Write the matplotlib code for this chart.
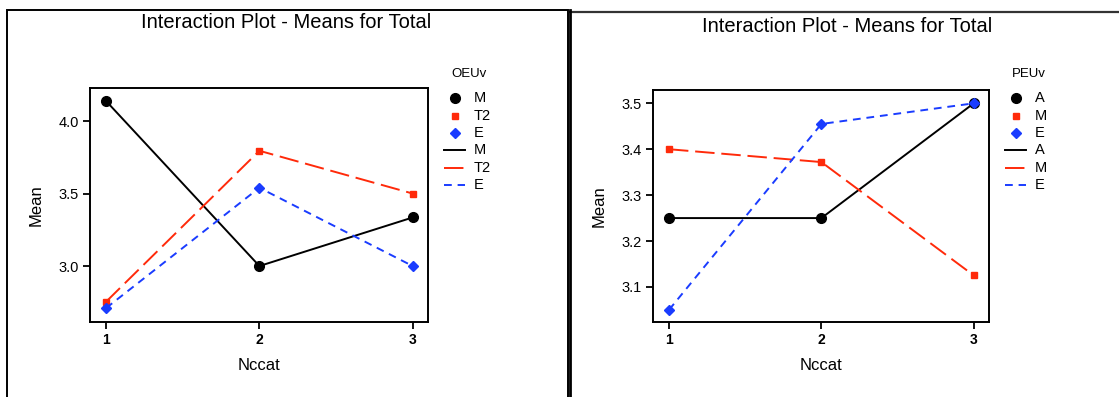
import matplotlib
matplotlib.use("Agg")
import matplotlib.pyplot as plt
from matplotlib.lines import Line2D
from matplotlib.patches import Rectangle

plt.rcParams['font.family'] = ['Liberation Sans', 'DejaVu Sans']

# data
nccat = [1, 2, 3]

oeuv_levels = ['M', 'T2', 'E']
oeuv_means = {
    'M': [4.138, 3.0, 3.335],
    'T2': [2.754, 3.795, 3.5],
    'E': [2.71, 3.54, 3.0],
}

peuv_levels = ['A', 'M', 'E']
peuv_means = {
    'A': [3.25, 3.25, 3.5],
    'M': [3.4, 3.372, 3.125],
    'E': [3.05, 3.455, 3.5],
}

W, H = 1119, 397
RED = '#ff2a0a'
BLUE = '#1a3cff'
styles = [
    dict(color='black', marker='o', ms=7, ls='-', dashes=None),
    dict(color=RED, marker='s', ms=4, ls='--', dashes=(10, 3.5)),
    dict(color=BLUE, marker='D', ms=5.5, ls='--', dashes=(4, 3)),
]

fig = plt.figure(figsize=(W / 100, H / 100), dpi=100)


def fx(px):
    return px / W


def fy(py):
    return 1 - py / H


def panel(box, means, levels, ylim, yticks, legend_title, leg_x, title_x, title_y):
    x0, y0, x1, y1 = box
    ax = fig.add_axes([fx(x0), fy(y1), fx(x1 - x0), (y1 - y0) / H])
    for lev, st in zip(levels, styles):
        line, = ax.plot(nccat, means[lev], color=st['color'], lw=1.4,
                        marker=st['marker'], ms=st['ms'], mec=st['color'])
        if st['dashes']:
            line.set_dashes(st['dashes'])
    ax.set_xlim(0.895, 3.1)
    ax.set_ylim(*ylim)
    ax.set_xticks(nccat)
    ax.set_xticklabels([str(v) for v in nccat], fontweight='bold', fontsize=10)
    ax.set_yticks(yticks)
    ax.set_yticklabels([f'{v:.1f}' for v in yticks], fontsize=10.5)
    ax.tick_params(direction='out', length=5, width=1.3, pad=3)
    for sp in ax.spines.values():
        sp.set_linewidth(1.4)
    ax.set_xlabel('Nccat', fontsize=12, labelpad=8)
    ax.set_ylabel('Mean', fontsize=12, labelpad=11)

    fig.text(fx(title_x), fy(title_y), 'Interaction Plot - Means for Total',
             ha='center', va='center', fontsize=14.5)

    # legend
    fig.text(fx(leg_x + 7), fy(74), legend_title, ha='left', va='center', fontsize=9.5)
    for i, (lev, st) in enumerate(zip(levels, styles)):
        yy = fy(98 + 17.6 * i)
        fig.add_artist(Line2D([fx(leg_x + 11)], [yy], marker=st['marker'], ms=st['ms'],
                              color=st['color'], ls='none', transform=fig.transFigure))
        fig.text(fx(leg_x + 30), yy, lev, ha='left', va='center', fontsize=10.5)
    for i, (lev, st) in enumerate(zip(levels, styles)):
        yy = fy(150 + 17.6 * i)
        ln = Line2D([fx(leg_x), fx(leg_x + 21)], [yy, yy], color=st['color'], lw=1.4,
                    transform=fig.transFigure)
        if st['dashes']:
            ln.set_dashes(st['dashes'])
        fig.add_artist(ln)
        fig.text(fx(leg_x + 30), yy, lev, ha='left', va='center', fontsize=10.5)
    return ax


panel((90, 88, 428, 322), oeuv_means, oeuv_levels, (2.614, 4.228),
      [3.0, 3.5, 4.0], 'OEUv', 444, 286, 23)
panel((653, 90, 989, 322), peuv_means, peuv_levels, (3.0236, 3.529),
      [3.1, 3.2, 3.3, 3.4, 3.5], 'PEUv', 1005, 847, 26)

# screenshot frames
fig.add_artist(Rectangle((fx(7), fy(420)), fx(561), (420 - 10) / H, fill=False,
                         ec='black', lw=1.4, transform=fig.transFigure))
fig.add_artist(Line2D([fx(570), fx(1125)], [fy(12), fy(12)], color='#333333', lw=1.6,
                      transform=fig.transFigure))
fig.add_artist(Line2D([fx(569.5), fx(569.5)], [fy(10), fy(400)], color='black', lw=2,
                      transform=fig.transFigure))

fig.savefig('out.png', dpi=100)
